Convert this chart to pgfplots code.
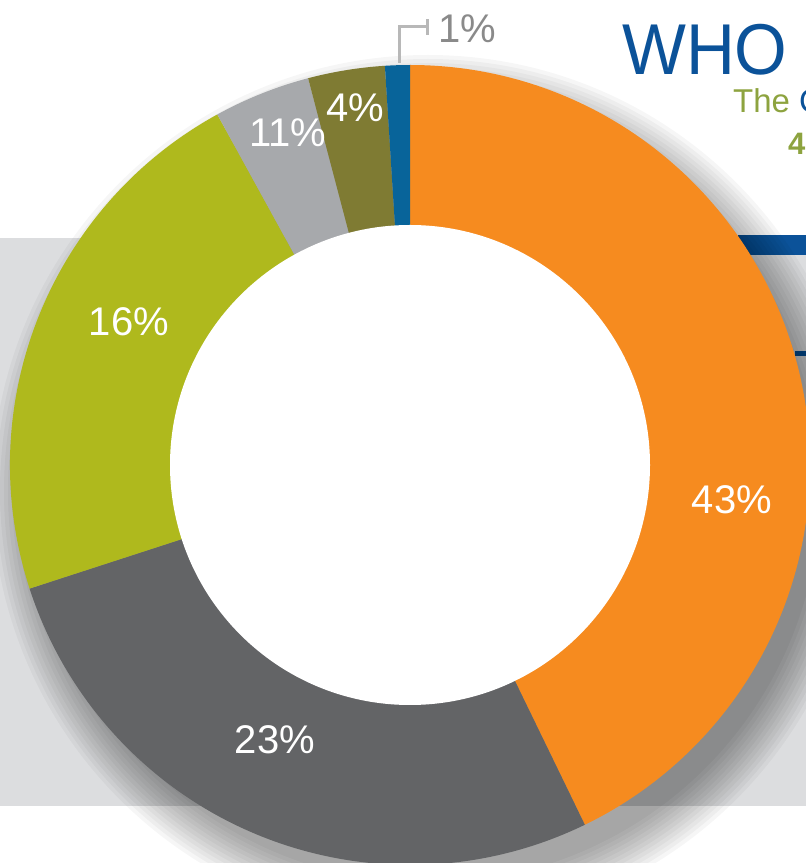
\documentclass[border=0pt]{standalone}
\usepackage{pgfplots}
\pgfplotsset{compat=1.18}
\usepackage{pgfplotstable}
\usepackage{graphicx}
\usepackage{fontspec}
\setmainfont{Liberation Sans}

\definecolor{slice0}{HTML}{F68B1F}
\definecolor{slice1}{HTML}{636466}
\definecolor{slice2}{HTML}{AFB91D}
\definecolor{slice3}{HTML}{A7A9AC}
\definecolor{slice4}{HTML}{7F7B33}
\definecolor{slice5}{HTML}{08649A}
\definecolor{labcol0}{HTML}{FFFFFF}
\definecolor{labcol1}{HTML}{FFFFFF}
\definecolor{labcol2}{HTML}{FFFFFF}
\definecolor{labcol3}{HTML}{FFFFFF}
\definecolor{labcol4}{HTML}{FFFFFF}
\definecolor{labcol5}{HTML}{8A8A8A}
\definecolor{band}{HTML}{DCDDDF}
\definecolor{whoblue}{HTML}{0B5299}
\definecolor{olivegreen}{HTML}{8DA33F}

% share of the circle (percent), printed label, label position
\pgfplotstableread{
idx value lab lx ly
0 42.8 43 732 349
1 27.2 23 275 109
2 22.0 16 129 527
3 3.9  11 288 716
4 3.1  4  355 741
5 1.0  1  467 820
}\slices

\begin{document}
\begin{tikzpicture}
\useasboundingbox (0,0) rectangle (806pt,863pt);
% precompute start / end angles (clockwise from the top)
\def\cum{90}
\pgfplotsforeachungrouped \i in {0,...,5}{%
  \pgfplotstablegetelem{\i}{value}\of\slices
  \pgfmathsetmacro\endang{\cum-3.6*\pgfplotsretval}%
  \expandafter\xdef\csname sa\i\endcsname{\cum}%
  \expandafter\xdef\csname ea\i\endcsname{\endang}%
  \xdef\cum{\endang}%
  \pgfplotstablegetelem{\i}{lab}\of\slices
  \expandafter\xdef\csname lab\i\endcsname{\pgfplotsretval}%
  \pgfplotstablegetelem{\i}{lx}\of\slices
  \expandafter\xdef\csname lx\i\endcsname{\pgfplotsretval}%
  \pgfplotstablegetelem{\i}{ly}\of\slices
  \expandafter\xdef\csname ly\i\endcsname{\pgfplotsretval}%
}
\begin{axis}[
  at={(0,0)}, anchor=south west,
  x=1pt, y=1pt,
  xmin=0, xmax=806, ymin=0, ymax=863,
  hide axis, clip=true,
]
% grey band and blue rules behind
\fill[band] (axis cs:0,57) rectangle (axis cs:820,625);
\fill[whoblue] (axis cs:738,608) rectangle (axis cs:820,628);
\fill[whoblue] (axis cs:795,507) rectangle (axis cs:820,512);
% soft drop shadow
\pgfplotsinvokeforeach{392,396,...,436}{
  \fill[black, fill opacity=0.035] (axis cs:428,372) circle[radius=#1pt];
}
% slices
\pgfplotsinvokeforeach{0,...,5}{
  \edef\temp{\noexpand\fill[slice#1] (axis cs:410,398) -- ++(\csname sa#1\endcsname:400pt)
     arc[start angle=\csname sa#1\endcsname, end angle=\csname ea#1\endcsname, radius=400pt] -- cycle;}
  \temp
}
% hole
\fill[white] (axis cs:410,398) circle[radius=240pt];
% labels
\pgfplotsinvokeforeach{0,...,5}{
  \edef\temp{\noexpand\node[anchor=base, inner sep=0pt, text=labcol#1, font=\noexpand\fontsize{40}{48}\noexpand\selectfont]
    at (axis cs:\csname lx#1\endcsname,\csname ly#1\endcsname) {\csname lab#1\endcsname\noexpand\%};}
  \temp
}
% leader for 1%
\draw[line width=3pt, color=black!28] (axis cs:399,800) -- (axis cs:399,836) -- (axis cs:427,836);
\draw[line width=3pt, color=black!28] (axis cs:427,828) -- (axis cs:427,844);
% title pieces
\node[anchor=base west, inner sep=0pt, text=whoblue, font=\fontsize{72}{80}\selectfont] at (axis cs:622,788) {\scalebox{0.94}[1]{WHO}};
\node[anchor=base west, inner sep=0pt, font=\fontsize{33}{38}\selectfont] at (axis cs:733,750) {\textcolor{olivegreen}{The} \textcolor{whoblue}{C}};
\node[anchor=base west, inner sep=0pt, text=olivegreen, font=\fontsize{31}{36}\selectfont\bfseries] at (axis cs:788,708) {4};
\end{axis}
\end{tikzpicture}
\end{document}
